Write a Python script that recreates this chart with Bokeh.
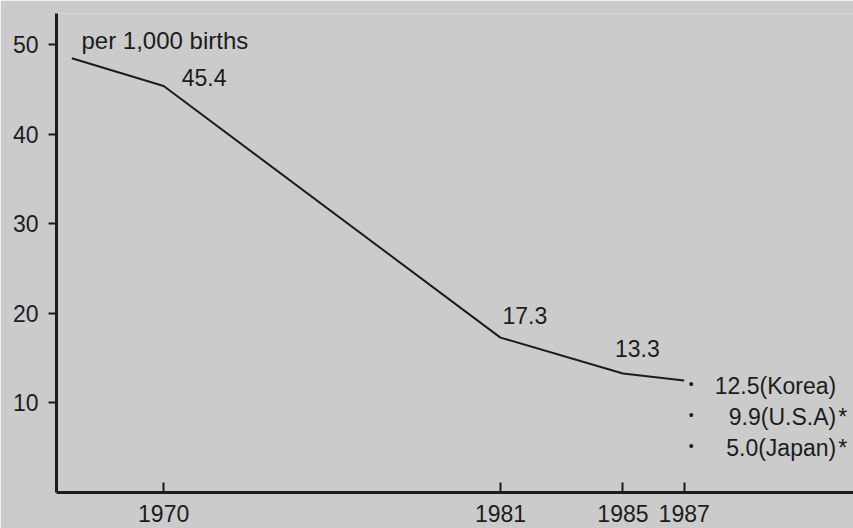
from bokeh.plotting import figure
from bokeh.models import Range1d, FixedTicker, Label, ColumnDataSource
from bokeh.embed import file_html
from bokeh.resources import INLINE

# ---- data ----
years = [1967, 1970, 1981, 1985, 1987]
rates = [48.5, 45.4, 17.3, 13.3, 12.5]
labeled_years = [1970, 1981, 1985]
labeled_rates = [45.4, 17.3, 13.3]
x_ticks = [1970, 1981, 1985, 1987]
y_ticks = [10, 20, 30, 40, 50]
compare_countries = ["Korea", "U.S.A", "Japan"]
compare_rates = [12.5, 9.9, 5.0]
compare_star = [False, True, True]
unit_text = "per 1,000 births"

# ---- style / layout ----
BG = "#cbcbcb"
INK = "#1c1c1c"
FONT = "Liberation Sans"
FS = "23px"

p = figure(width=853, height=528, output_backend="svg", toolbar_location=None,
           x_range=Range1d(1966.5, 1992.53), y_range=Range1d(0, 53.5),
           min_border_left=56, min_border_right=0, min_border_top=13, min_border_bottom=36)
p.background_fill_color = BG
p.border_fill_color = BG
p.outline_line_color = None
p.xgrid.visible = False
p.ygrid.visible = False

src = ColumnDataSource(dict(x=years, y=rates))
p.line("x", "y", source=src, line_width=2, line_color=INK)

for ax in (p.xaxis[0], p.yaxis[0]):
    ax.axis_line_width = 3
    ax.axis_line_color = INK
    ax.major_tick_line_width = 2
    ax.major_tick_line_color = INK
    ax.minor_tick_line_color = None
    ax.major_label_text_font = FONT
    ax.major_label_text_font_size = FS
    ax.major_label_text_color = INK

p.xaxis.ticker = FixedTicker(ticks=x_ticks)
p.xaxis.major_tick_in = 10
p.xaxis.major_tick_out = 0
p.xaxis.major_label_standoff = 12
p.yaxis.ticker = FixedTicker(ticks=y_ticks)
p.yaxis.major_tick_in = 0
p.yaxis.major_tick_out = 8
p.yaxis.major_label_standoff = 10

def lab(x, y, text, xo=0, yo=0, align="left", baseline="alphabetic", size=FS):
    p.add_layout(Label(x=x, y=y, text=text, x_offset=xo, y_offset=yo,
                       text_align=align, text_baseline=baseline,
                       text_font=FONT, text_font_size=size, text_color=INK))

# unit label
lab(p.x_range.start, y_ticks[-1], unit_text, xo=25, yo=4, size="24px")

# value labels
value_offsets = [(18, 9), (2, 22), (-8, 25)]
for (yr, v), (xo, yo) in zip(zip(labeled_years, labeled_rates), value_offsets):
    lab(yr, v, f"{v}", xo=xo, yo=yo)

# comparison block, anchored at last point
x_end, y_end = years[-1], rates[-1]
row_h = 31
for i, (c, v, star) in enumerate(zip(compare_countries, compare_rates, compare_star)):
    lab(x_end, y_end, "\u2022", xo=7, yo=-3 - i * row_h,
        align="center", baseline="middle", size="14px")
    lab(x_end, y_end, f"{v}({c})", xo=152, yo=-5 - i * row_h, align="right")
    if star:
        lab(x_end, y_end, "*", xo=154, yo=-5 - i * row_h, align="left")

open("out.html", "w").write(file_html(p, INLINE))
